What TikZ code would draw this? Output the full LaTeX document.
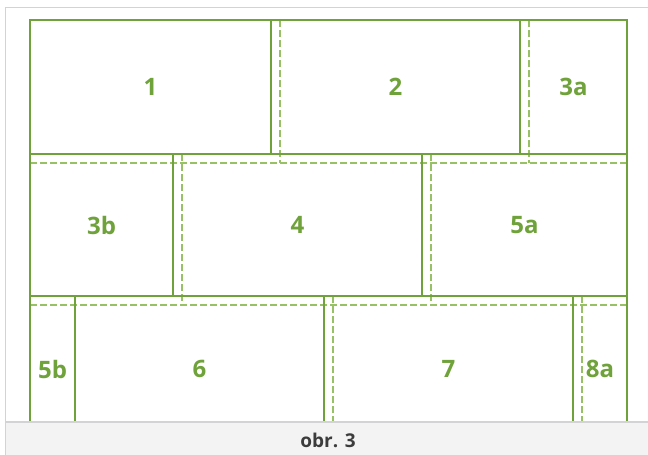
\documentclass[tikz,border=0pt]{standalone}
\usepackage{fontspec}
\setmainfont{Open Sans}
\definecolor{gsolid}{HTML}{6FA23A}
\definecolor{gdash}{HTML}{98C065}
\definecolor{capfill}{HTML}{F3F3F3}
\definecolor{capline}{HTML}{C8C8CC}
\definecolor{captext}{HTML}{3C3C3C}
\begin{document}
\begin{tikzpicture}[x=1pt,y=-1pt,
  solidline/.style={draw=gsolid,line width=2.6pt},
  dashline/.style={draw=gdash,line width=1.3pt,dash pattern=on 7pt off 3pt},
  lab/.style={text=gsolid,font=\fontsize{24}{27}\selectfont\bfseries,inner sep=0pt},
  frameline/.style={draw=capline!80!white,line width=1.6pt}]
\useasboundingbox (0,0) rectangle (648,455);
\fill[white] (0,0) rectangle (648,455);
% outer gray frame
\draw[frameline] (5.5,460) -- (5.5,7.5) -- (660,7.5);
% named coordinates
\coordinate (TL) at (30,20);
\coordinate (TR) at (627,20);
\coordinate (BL) at (30,445);
\coordinate (BR) at (627,445);
% dashed horizontals
\draw[dashline] (30,163) -- (627,163);
\draw[dashline] (30,305) -- (627,305);
% dashed verticals
\draw[dashline] (280,20) -- (280,163);
\draw[dashline] (529,20) -- (529,163);
\draw[dashline] (182,154) -- (182,305);
\draw[dashline] (431,154) -- (431,305);
\draw[dashline] (333,296) -- (333,445);
\draw[dashline] (582,296) -- (582,445);
% solid frame
\draw[solidline] (BL) -- (TL) -- (TR) -- (BR);
\draw[solidline] (30,154) -- (627,154);
\draw[solidline] (30,296) -- (627,296);
\draw[solidline] (271,20) -- (271,154);
\draw[solidline] (520,20) -- (520,154);
\draw[solidline] (173,154) -- (173,296);
\draw[solidline] (422,154) -- (422,296);
\draw[solidline] (75,296) -- (75,445);
\draw[solidline] (324,296) -- (324,445);
\draw[solidline] (573,296) -- (573,445);
% labels
\node[lab] (l1) at (150.5,87) {1};
\node[lab] (l2) at (395.5,87) {2};
\node[lab] (l3a) at (573.5,87) {3a};
\node[lab] (l3b) at (101.5,225) {3b};
\node[lab] (l4) at (297.5,225) {4};
\node[lab] (l5a) at (524.5,225) {5a};
\node[lab] (l5b) at (52.5,369) {5b};
\node[lab] (l6) at (199.5,369) {6};
\node[lab] (l7) at (448.5,369) {7};
\node[lab] (l8a) at (600,369) {8a};
% caption bar
\fill[capfill] (5.5,422) rectangle (660,460);
\draw[frameline] (5.5,422) -- (660,422);
\draw[frameline] (5.5,422) -- (5.5,460);
\node[text=captext,font=\fontsize{19}{22}\selectfont\bfseries,inner sep=0pt] (cap) at (328,440) {obr. 3};
\end{tikzpicture}
\end{document}
